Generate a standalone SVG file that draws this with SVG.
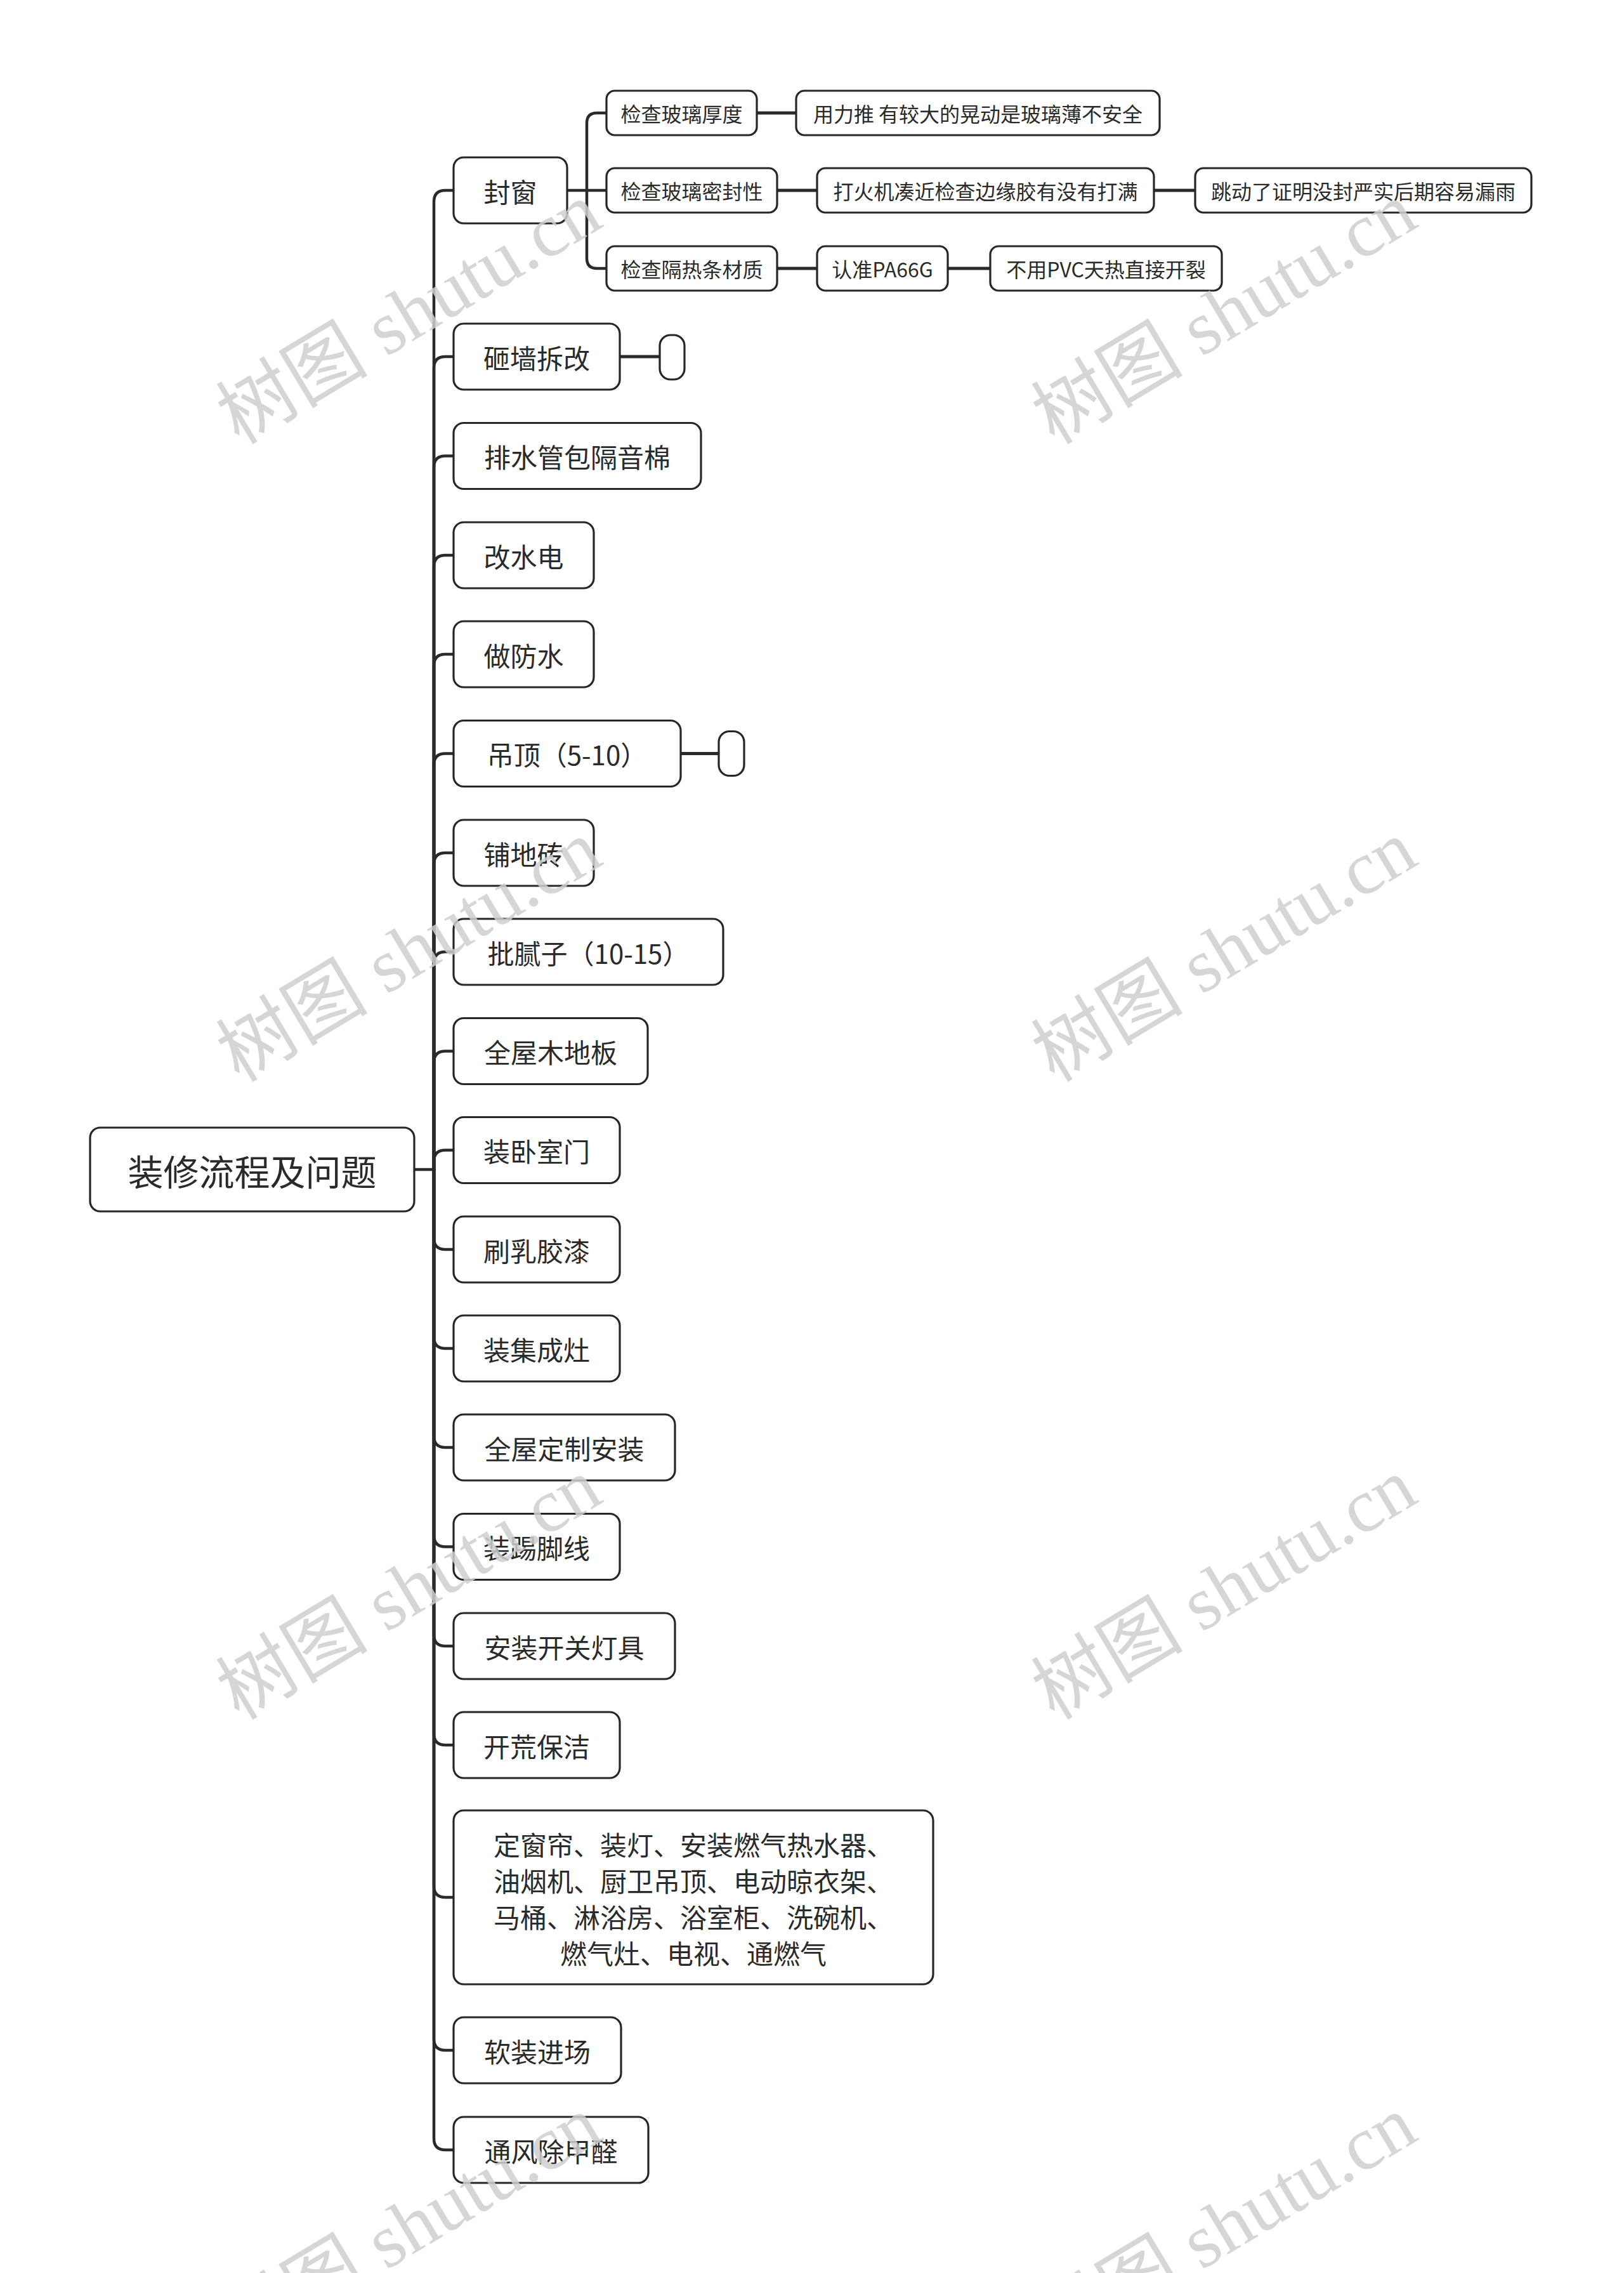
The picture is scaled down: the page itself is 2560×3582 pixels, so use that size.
<svg xmlns="http://www.w3.org/2000/svg" width="2560" height="3582" viewBox="0 0 2560 3582">
<style>
.bg{fill:#ffffff}
.box{fill:#ffffff;stroke:#262626;stroke-width:3.2}
.t{font-family:"Noto Sans CJK SC","Noto Sans",sans-serif;fill:#2a2a2a;text-anchor:middle;dominant-baseline:central}
.t0{font-size:56px}
.t1{font-size:42px}
.t2{font-size:32px}
.c1{fill:none;stroke:#2a2a2a;stroke-width:4.5;stroke-linecap:round}
.c2{fill:none;stroke:#2a2a2a;stroke-width:4.5}
.c3{fill:none;stroke:#2a2a2a;stroke-width:5}
.wm{font-family:"Liberation Serif","Noto Sans CJK SC",serif;font-size:120px;fill:#cfcfcf;fill-opacity:0.85}
</style>
<rect class="bg" x="0" y="0" width="2560" height="3582"/>
<g id="connectors">
<path class="c1" d="M653,1843 H684"/>
<path class="c1" d="M684,1843 V318 Q684,300 702,300 H715"/>
<path class="c1" d="M684,1843 V580 Q684,562 702,562 H715"/>
<path class="c1" d="M684,1843 V736.5 Q684,718.5 702,718.5 H715"/>
<path class="c1" d="M684,1843 V893 Q684,875 702,875 H715"/>
<path class="c1" d="M684,1843 V1049 Q684,1031 702,1031 H715"/>
<path class="c1" d="M684,1843 V1205.5 Q684,1187.5 702,1187.5 H715"/>
<path class="c1" d="M684,1843 V1362 Q684,1344 702,1344 H715"/>
<path class="c1" d="M684,1843 V1518 Q684,1500 702,1500 H715"/>
<path class="c1" d="M684,1843 V1674.5 Q684,1656.5 702,1656.5 H715"/>
<path class="c1" d="M684,1843 V1830.5 Q684,1812.5 702,1812.5 H715"/>
<path class="c1" d="M684,1843 V1951 Q684,1969 702,1969 H715"/>
<path class="c1" d="M684,1843 V2107 Q684,2125 702,2125 H715"/>
<path class="c1" d="M684,1843 V2263 Q684,2281 702,2281 H715"/>
<path class="c1" d="M684,1843 V2419.5 Q684,2437.5 702,2437.5 H715"/>
<path class="c1" d="M684,1843 V2576 Q684,2594 702,2594 H715"/>
<path class="c1" d="M684,1843 V2732 Q684,2750 702,2750 H715"/>
<path class="c1" d="M684,1843 V2972 Q684,2990 702,2990 H715"/>
<path class="c1" d="M684,1843 V3213 Q684,3231 702,3231 H715"/>
<path class="c1" d="M684,1843 V3370 Q684,3388 702,3388 H715"/>
<path class="c2" d="M894,300 H956"/>
<path class="c2" d="M925,300 V194 Q925,178 941,178 H956"/>
<path class="c2" d="M925,300 V407 Q925,423 941,423 H956"/>
<path class="c3" d="M1193,178 H1255"/>
<path class="c3" d="M1225,300 H1288"/>
<path class="c3" d="M1819,300 H1884"/>
<path class="c3" d="M1225,423 H1288"/>
<path class="c3" d="M1494,423 H1561"/>
<path class="c3" d="M977,562 H1040"/>
<path class="c3" d="M1073,1187.5 H1133"/>
</g>
<g id="root"><rect class="box" x="142" y="1777" width="511" height="132" rx="16"/><text class="t t0" x="397.5" y="1843">装修流程及问题</text></g>
<g id="n1"><rect class="box" x="715" y="248" width="179" height="104" rx="16"/><text class="t t1" x="804.5" y="300">封窗</text></g>
<g id="n1-1"><rect class="box" x="956" y="143" width="237" height="70" rx="13"/><text class="t t2" x="1074.5" y="178">检查玻璃厚度</text></g>
<g id="n1-1-1"><rect class="box" x="1255" y="143" width="573" height="70" rx="13"/><text class="t t2" x="1541.5" y="178">用力推 有较大的晃动是玻璃薄不安全</text></g>
<g id="n1-2"><rect class="box" x="956" y="265" width="269" height="70" rx="13"/><text class="t t2" x="1090.5" y="300">检查玻璃密封性</text></g>
<g id="n1-2-1"><rect class="box" x="1288" y="265" width="531" height="70" rx="13"/><text class="t t2" x="1553.5" y="300">打火机凑近检查边缘胶有没有打满</text></g>
<g id="n1-2-1-1"><rect class="box" x="1884" y="265" width="530" height="70" rx="13"/><text class="t t2" x="2149" y="300">跳动了证明没封严实后期容易漏雨</text></g>
<g id="n1-3"><rect class="box" x="956" y="388" width="269" height="70" rx="13"/><text class="t t2" x="1090.5" y="423">检查隔热条材质</text></g>
<g id="n1-3-1"><rect class="box" x="1288" y="388" width="206" height="70" rx="13"/><text class="t t2" x="1391" y="423">认准PA66G</text></g>
<g id="n1-3-1-1"><rect class="box" x="1561" y="388" width="365" height="70" rx="13"/><text class="t t2" x="1743.5" y="423">不用PVC天热直接开裂</text></g>
<g id="n2"><rect class="box" x="715" y="510" width="262" height="104" rx="16"/><text class="t t1" x="846" y="562">砸墙拆改</text></g>
<g id="n2-1"><rect class="box" x="1040" y="528" width="39" height="70" rx="17"/></g>
<g id="n3"><rect class="box" x="715" y="666.5" width="390" height="104" rx="16"/><text class="t t1" x="910" y="718.5">排水管包隔音棉</text></g>
<g id="n4"><rect class="box" x="715" y="823" width="221" height="104" rx="16"/><text class="t t1" x="825.5" y="875">改水电</text></g>
<g id="n5"><rect class="box" x="715" y="979" width="221" height="104" rx="16"/><text class="t t1" x="825.5" y="1031">做防水</text></g>
<g id="n6"><rect class="box" x="715" y="1135.5" width="358" height="104" rx="16"/><text class="t t1" x="894" y="1187.5">吊顶（5-10）</text></g>
<g id="n6-1"><rect class="box" x="1133" y="1152.5" width="40" height="70" rx="17"/></g>
<g id="n7"><rect class="box" x="715" y="1292" width="221" height="104" rx="16"/><text class="t t1" x="825.5" y="1344">铺地砖</text></g>
<g id="n8"><rect class="box" x="715" y="1448" width="425" height="104" rx="16"/><text class="t t1" x="927.5" y="1500">批腻子（10-15）</text></g>
<g id="n9"><rect class="box" x="715" y="1604.5" width="306" height="104" rx="16"/><text class="t t1" x="868" y="1656.5">全屋木地板</text></g>
<g id="n10"><rect class="box" x="715" y="1760.5" width="262" height="104" rx="16"/><text class="t t1" x="846" y="1812.5">装卧室门</text></g>
<g id="n11"><rect class="box" x="715" y="1917" width="262" height="104" rx="16"/><text class="t t1" x="846" y="1969">刷乳胶漆</text></g>
<g id="n12"><rect class="box" x="715" y="2073" width="262" height="104" rx="16"/><text class="t t1" x="846" y="2125">装集成灶</text></g>
<g id="n13"><rect class="box" x="715" y="2229" width="349" height="104" rx="16"/><text class="t t1" x="889.5" y="2281">全屋定制安装</text></g>
<g id="n14"><rect class="box" x="715" y="2385.5" width="262" height="104" rx="16"/><text class="t t1" x="846" y="2437.5">装踢脚线</text></g>
<g id="n15"><rect class="box" x="715" y="2542" width="349" height="104" rx="16"/><text class="t t1" x="889.5" y="2594">安装开关灯具</text></g>
<g id="n16"><rect class="box" x="715" y="2698" width="262" height="104" rx="16"/><text class="t t1" x="846" y="2750">开荒保洁</text></g>
<g id="n17"><rect class="box" x="715" y="2853" width="756" height="274" rx="16"/>
<text class="t t1" x="1093" y="2905">定窗帘、装灯、安装燃气热水器、</text>
<text class="t t1" x="1093" y="2962">油烟机、厨卫吊顶、电动晾衣架、</text>
<text class="t t1" x="1093" y="3019">马桶、淋浴房、浴室柜、洗碗机、</text>
<text class="t t1" x="1093" y="3076">燃气灶、电视、通燃气</text></g>
<g id="n18"><rect class="box" x="715" y="3179" width="264" height="104" rx="16"/><text class="t t1" x="847" y="3231">软装进场</text></g>
<g id="n19"><rect class="box" x="715" y="3336" width="307" height="104" rx="16"/><text class="t t1" x="868.5" y="3388">通风除甲醛</text></g>
<g id="watermarks">
<text class="wm" transform="translate(377,702) rotate(-31)">树图 shutu.cn</text>
<text class="wm" transform="translate(1662,702) rotate(-31)">树图 shutu.cn</text>
<text class="wm" transform="translate(377,1707) rotate(-31)">树图 shutu.cn</text>
<text class="wm" transform="translate(1662,1707) rotate(-31)">树图 shutu.cn</text>
<text class="wm" transform="translate(377,2712) rotate(-31)">树图 shutu.cn</text>
<text class="wm" transform="translate(1662,2712) rotate(-31)">树图 shutu.cn</text>
<text class="wm" transform="translate(377,3717) rotate(-31)">树图 shutu.cn</text>
<text class="wm" transform="translate(1662,3717) rotate(-31)">树图 shutu.cn</text>
</g>
</svg>
